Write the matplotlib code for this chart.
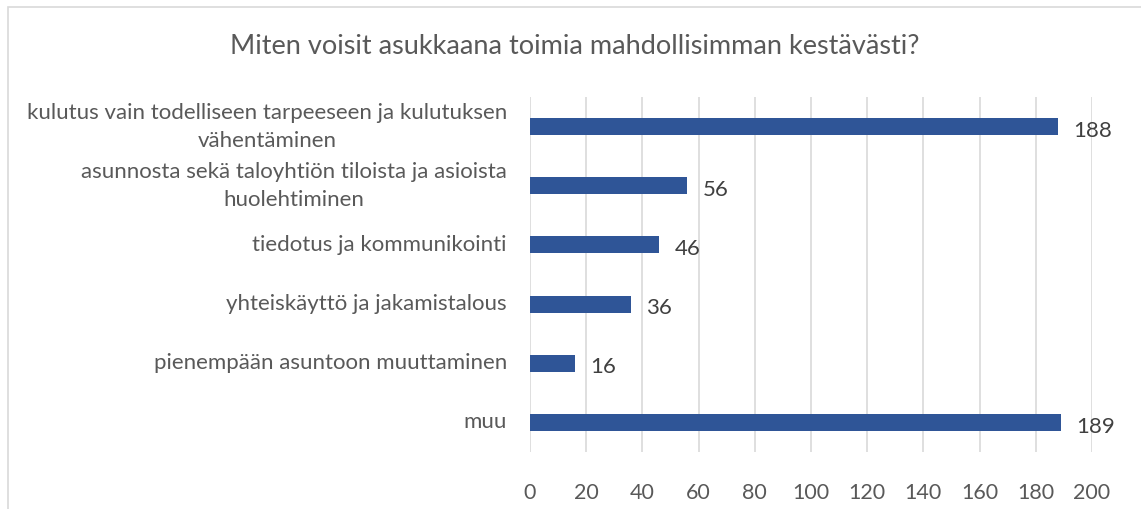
import matplotlib
matplotlib.use("Agg")
import matplotlib.pyplot as plt
from matplotlib.patches import Rectangle
from matplotlib.transforms import blended_transform_factory, offset_copy

categories = [
    "kulutus vain todelliseen tarpeeseen ja kulutuksen\nvähentäminen",
    "asunnosta sekä taloyhtiön tiloista ja asioista\nhuolehtiminen",
    "tiedotus ja kommunikointi",
    "yhteiskäyttö ja jakamistalous",
    "pienempään asuntoon muuttaminen",
    "muu",
]
values = [188, 56, 46, 36, 16, 189]
xticks = [0, 20, 40, 60, 80, 100, 120, 140, 160, 180, 200]
title = "Miten voisit asukkaana toimia mahdollisimman kestävästi?"

plt.rcParams['font.family'] = ['Lato', 'DejaVu Sans']

W, H = 1141, 509
fig = plt.figure(figsize=(W / 100, H / 100), dpi=100)
fig.patch.set_facecolor("white")

# chart border (top & left visible)
fig.add_artist(Rectangle((8 / W, -0.1), 1.2, (H - 7) / H + 0.1, transform=fig.transFigure,
                         fill=False, edgecolor="#D9D9D9", linewidth=1.2))

left, right = 530 / W, 1092 / W
top, bottom = 1 - 97 / H, 1 - 452 / H
ax = fig.add_axes([left, bottom, right - left, top - bottom])

y = list(range(len(categories)))
ax.barh(y, values, height=0.29, color="#2F5597", zorder=3)
ax.set_ylim(len(categories) - 0.5, -0.5)
ax.set_xlim(0, 200)
ax.set_xticks(xticks)
ax.set_xticklabels([str(t) for t in xticks])
ax.set_yticks(y)
ax.set_yticklabels([])
ax.tick_params(axis="y", length=0)
ax.tick_params(axis="x", length=0, labelsize=15.5, colors="#595959", pad=22)
ax.grid(axis="x", color="#D9D9D9", linewidth=1.2, zorder=0)
for s in ax.spines.values():
    s.set_visible(False)

trans = offset_copy(blended_transform_factory(ax.transAxes, ax.transData),
                    fig=fig, x=-0.23, y=0, units="inches")
for yi, lab in zip(y, categories):
    ax.text(0, yi, lab, transform=trans, ha="right", va="center",
            multialignment="center", linespacing=1.5,
            fontsize=16, color="#595959")

for yi, v in zip(y, values):
    ax.annotate(str(v), (v, yi), xytext=(11, -3), textcoords="offset points",
                ha="left", va="center", fontsize=16, color="#404040")

fig.text(0.5 * (8 / W + 1), 1 - 47 / H, title, ha="center", va="center",
         fontsize=19.5, color="#595959")

fig.savefig("out.png", dpi=100, facecolor="white")
